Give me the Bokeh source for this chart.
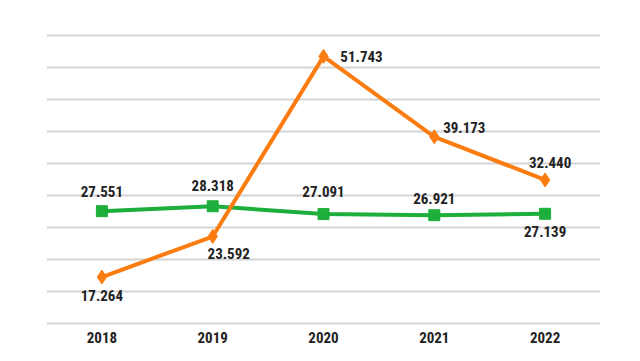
from bokeh.plotting import figure
from bokeh.models import ColumnDataSource, Range1d, FixedTicker
from bokeh.embed import file_html
from bokeh.resources import INLINE
from bokeh.core.properties import value

# ---- data ----
years = ["2018", "2019", "2020", "2021", "2022"]
green_values = [27.551, 28.318, 27.091, 26.921, 27.139]
orange_values = [17.264, 23.592, 51.743, 39.173, 32.440]
grid_ticks = [10, 15, 20, 25, 30, 35, 40, 45, 50, 55]

# ---- label placement (pixels) ----
green_dx = [0, 0, 0, 0, 0]
green_dy = [-20, -21, -23, -17, 18]
orange_dx = [0, 16, 38, 30, 5]
orange_dy = [18, 17, 0, -9, -17]

FONT = "Roboto Condensed"
TXT = "#222222"
ORANGE = "#FB7D12"
GREEN = "#1DAE3B"

p = figure(
    width=640, height=353,
    x_range=years, y_range=Range1d(8.75, 56.25),
    output_backend="svg", toolbar_location=None,
    min_border_left=46, min_border_right=40,
    min_border_top=27, min_border_bottom=22,
)
p.outline_line_color = None
p.background_fill_color = "white"
p.border_fill_color = "white"

p.yaxis.visible = False
p.ygrid.ticker = FixedTicker(ticks=grid_ticks)
p.ygrid.grid_line_color = "#D4D4D4"
p.ygrid.grid_line_width = 2
p.xgrid.grid_line_color = None

p.xaxis.axis_line_color = None
p.xaxis.major_tick_line_color = None
p.xaxis.minor_tick_line_color = None
p.xaxis.major_tick_out = 0
p.xaxis.major_label_standoff = 0
p.xaxis.major_label_text_font = FONT
p.xaxis.major_label_text_font_style = "bold"
p.xaxis.major_label_text_font_size = "15px"
p.xaxis.major_label_text_color = TXT

gsrc = ColumnDataSource(dict(x=years, y=green_values,
                             t=[f"{v:.3f}" for v in green_values],
                             dx=green_dx, dy=green_dy))
osrc = ColumnDataSource(dict(x=years, y=orange_values,
                             t=[f"{v:.3f}" for v in orange_values],
                             dx=orange_dx, dy=orange_dy))

p.line("x", "y", source=gsrc, line_color=GREEN, line_width=4)
p.scatter("x", "y", source=gsrc, marker="square", size=11,
          fill_color=GREEN, line_color=GREEN)
p.line("x", "y", source=osrc, line_color=ORANGE, line_width=4)
p.scatter("x", "y", source=osrc, marker="diamond", size=14,
          fill_color=ORANGE, line_color=ORANGE)

for src in (gsrc, osrc):
    p.text("x", "y", text="t", source=src, x_offset="dx", y_offset="dy",
           text_font=value(FONT), text_font_style="bold",
           text_font_size="15px", text_color=TXT,
           text_align="center", text_baseline="middle")

open("out.html", "w").write(file_html(p, INLINE))
